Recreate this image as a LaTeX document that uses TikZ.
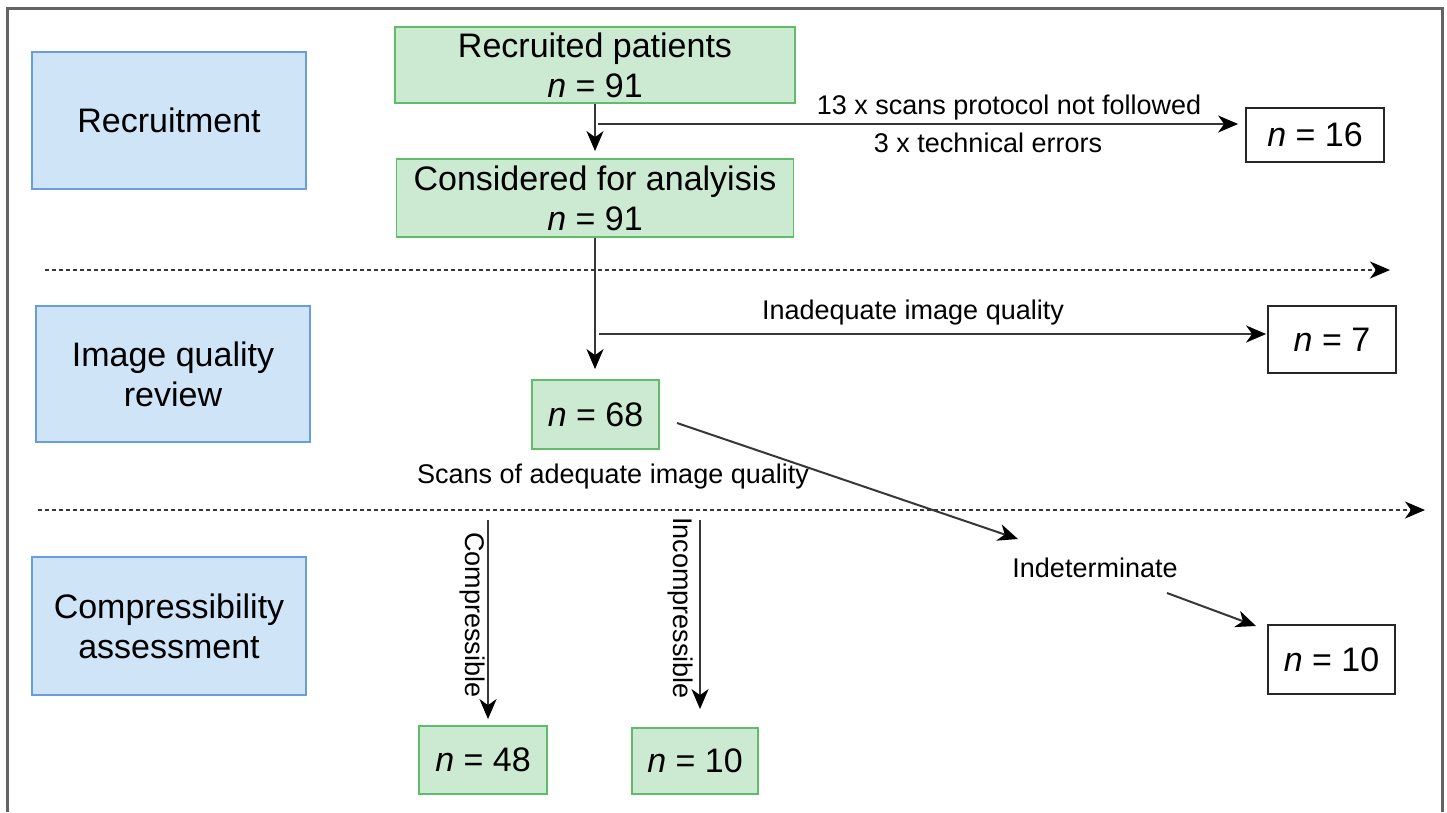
\documentclass[tikz,border=0pt]{standalone}
\usepackage{fontspec}
\setmainfont{Liberation Sans}
\usetikzlibrary{arrows.meta,calc}
\definecolor{bfill}{RGB}{208,228,247}
\definecolor{bdraw}{RGB}{105,158,220}
\definecolor{gfill}{RGB}{204,233,210}
\definecolor{gdraw}{RGB}{96,188,104}
\definecolor{lncol}{RGB}{55,55,55}
\definecolor{framecol}{RGB}{100,100,100}
\begin{document}
\begin{tikzpicture}[x=1pt,y=-1pt,
  boxtext/.style={align=center, inner sep=0pt, line width=1.8pt, font=\fontsize{34}{40}\selectfont},
  bluebox/.style={boxtext, draw=bdraw, fill=bfill},
  greenbox/.style={boxtext, draw=gdraw, fill=gfill},
  whitebox/.style={boxtext, draw=black!85, fill=white},
  lbl/.style={inner sep=0pt, font=\fontsize{27}{32}\selectfont},
  tip/.style={-{Stealth[length=20pt,width=17pt,inset=6pt,color=black]}},
  arr/.style={draw=lncol, line width=2pt, tip},
  dasharr/.style={draw=lncol, line width=2pt, dash pattern=on 4pt off 3pt, tip}
]
\useasboundingbox (0,0) rectangle (1447,812);
\fill[white] (0,0) rectangle (1447,812);
% outer frame
\draw[framecol, line width=2.2pt] (7.5,812) -- (7.5,8.5) -- (1442.5,8.5) -- (1442.5,812);

% stage boxes
\node[bluebox, minimum width=274pt, minimum height=137pt] (rec) at (169,120.5) {Recruitment};
\node[bluebox, minimum width=274pt, minimum height=136pt] (iqr) at (173,374) {Image quality\\review};
\node[bluebox, minimum width=274pt, minimum height=138pt] (ca) at (169,626) {Compressibility\\assessment};

% flow boxes
\node[greenbox, minimum width=400pt, minimum height=76pt] (rp) at (595,65) {Recruited patients\\\textit{n} = 91};
\node[greenbox, minimum width=397pt, minimum height=78pt] (cfa) at (595,198) {Considered for analyisis\\\textit{n} = 91};
\node[greenbox, minimum width=127pt, minimum height=69pt] (n68) at (595.5,414.5) {\textit{n} = 68};
\node[greenbox, minimum width=128pt, minimum height=68pt] (n48) at (483,760) {\textit{n} = 48};
\node[greenbox, minimum width=126pt, minimum height=66pt] (n10g) at (695,761) {\textit{n} = 10};
\node[whitebox, minimum width=138pt, minimum height=54pt] (n16) at (1315,135) {\textit{n} = 16};
\node[whitebox, minimum width=128pt, minimum height=67pt] (n7) at (1332,339.5) {\textit{n} = 7};
\node[whitebox, minimum width=127pt, minimum height=69pt] (n10w) at (1331.5,659.5) {\textit{n} = 10};

% labels
\node[lbl] (l13) at (1009,108) {13 x scans protocol not followed};
\node[lbl] (l3) at (988,143) {3 x technical errors};
\node[lbl] (linad) at (913,313) {Inadequate image quality};
\node[lbl] (lscan) at (613,477) {Scans of adequate image quality};
\node[lbl] (lind) at (1095,568) {Indeterminate};
\node[lbl, rotate=-90] (lcomp) at (472,615) {Compressible};
\node[lbl, rotate=-90] (linc) at (680,608) {Incompressible};

% dashed stage separators
\coordinate (s1a) at (45,270);
\coordinate (s1b) at (1390,270);
\coordinate (s2a) at (38,510);
\coordinate (s2b) at (1425,510);
\draw[dasharr] (s1a) -- (s1b);
\draw[dasharr] (s2a) -- (s2b);

% connectors
\draw[arr, shorten >=7pt] (rp.south) -- (cfa.north);
\coordinate (b1) at (598,124);
\draw[arr, shorten >=7pt] (b1) -- (b1 -| n16.west);
\draw[arr, shorten >=10pt] (cfa.south) -- (cfa.south |- n68.north);
\coordinate (b2) at (599,334);
\draw[arr, shorten >=1pt] (b2) -- (b2 -| n7.west);
\coordinate (d1) at (677,423);
\coordinate (d2) at (1018,539);
\draw[arr] (d1) -- (d2);
\coordinate (e1) at (1167,593);
\coordinate (e2) at (1256,626);
\draw[arr] (e1) -- (e2);
\coordinate (c1) at (488,520);
\draw[arr, shorten >=6pt] (c1) -- (c1 |- n48.north);
\coordinate (c2) at (700,520);
\draw[arr, shorten >=18pt] (c2) -- (c2 |- n10g.north);
\end{tikzpicture}
\end{document}
